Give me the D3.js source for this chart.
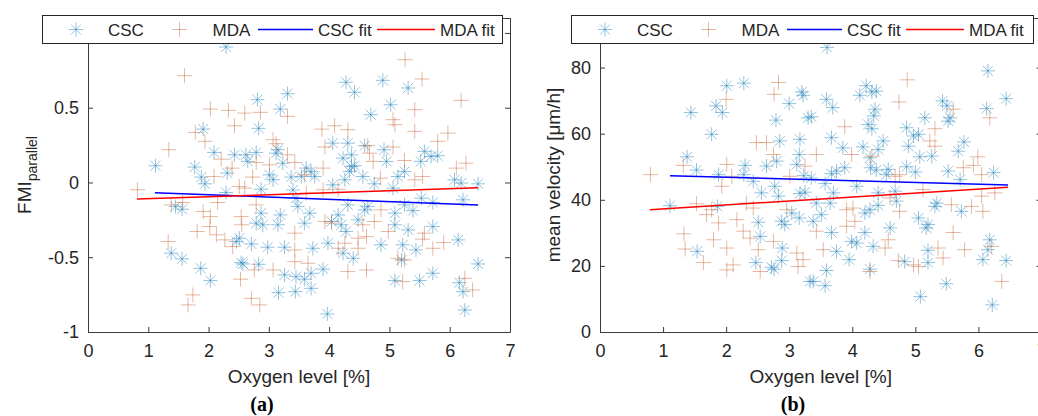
<!DOCTYPE html>
<html lang="en">
<head>
<meta charset="utf-8">
<title>FMI and mean velocity vs oxygen level</title>
<script src="https://d3js.org/d3.v7.min.js"></script>
<style>
  html, body { margin: 0; padding: 0; background: #fff; }
  text { font-family: "Liberation Sans", Arial, sans-serif; fill: #262626; }
  .axis line, .axis path { stroke: #3a3a3a; }
  .panel-label { font-family: "Liberation Serif", "DejaVu Serif", serif; font-weight: bold; font-size: 20px; fill: #000; }
</style>
</head>
<body>
<script>
// ---- data ----
var xTicks = [0, 1, 2, 3, 4, 5, 6, 7];
var fmiTicks = [-1, -0.5, 0, 0.5, 1];
var velTicks = [0, 20, 40, 60, 80];
var legendNames = ["CSC", "MDA", "CSC fit", "MDA fit"];

// panel (a): FMI parallel
var cscFmi = [
  [2.29,0.906],[3.31,0.594],[2.81,0.554],[3.19,0.491],[1.91,0.357],[2.83,0.362],[1.12,0.112],[2.09,0.201],
  [2.43,0.185],[2.62,0.185],[2.79,0.201],[3.12,0.196],[3.15,0.219],[2.65,0.141],[3.23,0.129],[1.77,0.103],
  [1.88,0.036],[1.94,-0.009],[2.31,0.063],[3.01,0.051],[3.07,0.018],[3.37,0.036],[2.87,-0.045],[2.29,-0.067],
  [1.45,-0.161],[1.56,-0.179],[2.87,-0.205],[2.79,-0.272],[2.90,-0.283],[3.19,-0.217],[3.15,-0.283],[2.51,-0.373],
  [2.46,-0.395],[2.71,-0.411],[2.98,-0.433],[3.26,-0.433],[1.38,-0.473],[1.56,-0.511],[1.87,-0.574],[2.54,-0.536],
  [2.57,-0.545],[2.83,-0.547],[3.26,-0.618],[2.03,-0.656],[3.16,-0.737],[3.44,-0.730],[3.45,-0.630],[3.40,-0.050],
  [3.45,-0.105],[3.48,-0.160],
  [4.28,0.670],[4.42,0.603],[4.89,0.683],[5.31,0.632],[5.02,0.520],[4.69,0.453],[4.06,0.263],[4.31,0.263],
  [4.59,0.246],[4.91,0.219],[4.95,0.141],[5.58,0.208],[5.52,0.141],[5.69,0.174],[5.80,0.179],[4.23,0.163],
  [4.37,0.185],[4.37,0.107],[4.42,0.112],[4.34,0.074],[3.62,0.096],[3.70,0.074],[3.76,0.040],[3.54,0.040],
  [4.06,-0.016],[4.26,0.018],[4.56,0.040],[4.75,-0.009],[5.14,0.040],[5.25,0.074],[5.06,-0.038],[6.08,0.018],
  [6.19,-0.004],[6.47,-0.009],[6.22,-0.116],[5.72,-0.134],[5.53,-0.105],[5.39,-0.188],[5.25,-0.150],[5.09,-0.205],
  [4.64,-0.161],[4.59,-0.183],[4.48,-0.250],[4.31,-0.150],[4.15,-0.217],[4.20,-0.283],[4.28,-0.328],[4.04,-0.261],
  [3.68,-0.205],[3.59,-0.272],[5.09,-0.283],[5.31,-0.317],[5.72,-0.295],[6.14,-0.384],[4.86,-0.417],[5.22,-0.417],
  [5.44,-0.451],[3.98,-0.406],[3.73,-0.440],[4.23,-0.473],[4.40,-0.507],[5.20,-0.518],[3.90,-0.580],[3.70,-0.607],
  [3.59,-0.647],[3.70,-0.708],[5.09,-0.656],[5.50,-0.656],[5.72,-0.607],[6.16,-0.670],[6.22,-0.730],[6.47,-0.545],
  [6.25,-0.853],[3.97,-0.879]
];
var mdaFmi = [
  [1.60,0.714],[2.03,0.491],[2.33,0.482],[2.60,0.464],[2.86,0.469],[3.31,0.442],[2.43,0.379],[1.78,0.335],
  [1.94,0.275],[1.34,0.219],[3.07,0.286],[3.12,0.259],[3.31,0.185],[3.43,0.134],[2.21,0.156],[2.39,0.096],
  [2.79,0.134],[3.01,0.118],[2.73,0.036],[0.82,-0.049],[2.51,-0.027],[2.60,-0.038],[2.09,0.040],[2.15,-0.134],
  [1.38,-0.150],[1.57,-0.134],[1.91,-0.194],[2.03,-0.228],[2.54,-0.228],[2.55,-0.283],[2.79,-0.150],[2.02,-0.295],
  [1.81,-0.328],[2.13,-0.350],[2.27,-0.384],[1.33,-0.395],[2.40,-0.429],[3.43,-0.339],[3.43,-0.451],[3.07,-0.585],
  [2.53,-0.647],[2.76,-0.585],[1.74,-0.752],[1.66,-0.819],[2.71,-0.775],[2.85,-0.819],[3.43,-0.530],
  [5.26,0.821],[5.54,0.692],[6.19,0.549],[5.42,0.487],[5.06,0.420],[5.09,0.386],[5.42,0.342],[3.88,0.357],
  [4.09,0.379],[4.31,0.353],[5.97,0.330],[5.80,0.275],[4.64,0.246],[5.06,0.237],[3.93,0.237],[4.67,0.196],
  [4.73,0.141],[5.25,0.147],[6.27,0.129],[6.11,0.096],[5.55,0.040],[5.42,0.018],[3.90,0.096],[3.59,0.051],
  [4.85,0.029],[4.15,-0.045],[3.90,-0.049],[3.62,-0.071],[4.86,-0.183],[4.75,-0.261],[3.93,-0.261],[4.04,-0.272],
  [4.56,-0.283],[4.62,-0.362],[4.48,-0.373],[4.98,-0.328],[5.58,-0.339],[5.55,-0.379],[5.72,-0.440],[5.90,-0.402],
  [4.15,-0.440],[4.48,-0.440],[5.14,-0.507],[5.25,-0.518],[4.31,-0.596],[4.62,-0.585],[3.65,-0.540],[5.22,-0.663],
  [6.25,-0.641],[6.38,-0.719],[4.26,-0.406]
];
var cscFmiFit = [[1.11,-0.068],[6.47,-0.150]];
var mdaFmiFit = [[0.81,-0.111],[6.47,-0.036]];

// panel (b): mean velocity
var cscVel = [
  [2.01,74.5],[2.28,75.3],[3.20,72.6],[3.22,71.6],[3.00,69.1],[1.84,68.4],[1.94,66.4],[1.44,66.4],
  [2.79,64.1],[3.30,64.8],[1.77,59.8],[2.85,57.8],[3.17,58.3],[1.38,53.0],[3.16,53.7],[1.53,49.0],
  [2.30,50.4],[2.64,50.2],[2.80,51.7],[3.12,50.7],[1.88,47.6],[2.28,47.6],[2.43,45.6],[3.23,47.3],
  [2.77,44.1],[2.56,42.1],[2.83,41.1],[3.17,41.9],[3.25,42.3],[1.11,38.2],[1.86,38.0],[2.51,33.2],
  [2.88,33.5],[2.93,32.5],[3.16,34.5],[3.04,36.0],[2.54,28.9],[2.89,25.4],[1.54,24.4],[2.47,21.0],
  [2.72,19.6],[2.76,19.0],[2.88,21.6],[3.33,15.3],
  [3.60,86.1],[6.15,79.0],[6.44,70.6],[6.13,67.6],[4.22,74.5],[4.12,71.6],[4.31,72.6],[4.38,72.9],
  [3.59,70.4],[3.69,67.9],[4.36,67.4],[4.34,65.4],[4.25,62.8],[4.31,61.5],[5.43,69.9],[5.50,68.4],
  [5.15,64.8],[5.55,64.8],[5.52,63.8],[4.86,61.8],[4.97,59.3],[5.05,59.8],[3.35,65.1],[3.67,58.8],
  [3.85,55.7],[4.49,57.8],[4.17,56.0],[4.89,56.2],[5.77,57.5],[5.68,54.7],[5.07,53.0],[5.26,53.2],
  [4.28,52.7],[4.41,55.2],[4.29,49.7],[4.38,49.0],[4.57,49.2],[4.54,47.6],[3.75,48.7],[3.88,49.7],
  [3.67,47.9],[4.86,50.0],[5.00,48.4],[5.52,48.7],[5.71,46.1],[6.24,48.2],[3.35,46.6],[3.57,44.9],
  [4.07,44.1],[4.68,42.6],[4.41,42.1],[4.70,39.6],[3.70,42.1],[3.65,39.0],[3.43,39.0],[5.31,38.0],
  [5.34,39.0],[5.73,36.5],[4.28,37.0],[4.41,38.3],[4.20,36.0],[3.38,33.5],[3.51,35.5],[5.05,34.5],
  [5.20,32.5],[5.17,31.5],[4.60,31.5],[3.67,30.1],[4.20,30.1],[3.99,27.4],[4.07,26.9],[4.33,25.9],
  [3.75,24.4],[5.20,24.7],[6.18,27.9],[6.15,24.9],[6.07,21.9],[6.44,21.6],[3.95,21.9],[4.83,21.3],
  [5.20,21.0],[4.28,19.0],[3.59,18.6],[3.38,15.3],[3.57,14.0],[5.49,14.6],[5.08,10.7],[6.22,8.2]
];
var mdaVel = [
  [2.83,75.5],[2.76,71.9],[2.00,70.4],[0.80,47.6],[1.32,50.4],[2.48,57.3],[2.64,57.3],[2.75,53.7],
  [2.01,50.7],[2.09,47.1],[1.93,44.1],[3.01,47.1],[3.25,50.2],[1.53,38.8],[1.69,35.5],[1.77,37.0],
  [1.88,33.0],[2.17,34.0],[2.32,39.0],[2.43,37.5],[2.27,30.5],[2.38,28.4],[1.33,29.7],[1.80,27.9],
  [2.01,25.4],[1.35,25.1],[1.64,21.0],[2.51,24.9],[2.75,27.4],[3.12,23.9],[3.22,21.9],[2.11,20.3],
  [2.01,18.8],[2.54,18.3],[3.14,19.8],[2.96,37.0],
  [4.87,76.3],[4.74,69.6],[3.88,62.1],[5.31,61.5],[5.60,67.4],[6.18,64.8],[3.43,53.7],[3.99,53.7],
  [4.31,53.2],[5.23,57.8],[5.31,56.2],[5.99,53.0],[5.92,50.4],[5.76,49.7],[6.05,47.6],[4.75,47.6],
  [4.68,47.1],[3.91,37.0],[4.01,37.5],[5.57,38.5],[5.89,38.0],[6.07,36.5],[6.05,41.1],[6.26,42.1],
  [4.60,40.6],[4.75,36.5],[5.12,43.1],[4.04,33.5],[3.43,30.5],[3.91,32.0],[4.57,27.9],[4.52,25.4],
  [5.60,30.1],[5.78,24.9],[5.36,25.4],[5.44,22.4],[4.97,20.3],[5.05,19.8],[4.73,21.6],[3.54,24.9],
  [4.28,18.3],[6.37,15.3],[6.21,25.9]
];
var cscVelFit = [[1.11,47.3],[6.47,44.5]];
var mdaVelFit = [[0.79,37.0],[6.47,43.8]];

// ---- drawing ----
var W = 1038, H = 416;
var cscColor = "#2a85bb", mdaColor = "#c86a3c";
var cscAlpha = 0.5, mdaAlpha = 0.48;
var svg = d3.select("body").append("svg").attr("width", W).attr("height", H);

var asterisk = "M-7,0H7M0,-7V7M-5,-5L5,5M-5,5L5,-5";
var plus = "M-7.5,0H7.5M0,-7.5V7.5";

function panel(opt) {
  var x = d3.scaleLinear().domain([0, 7]).range(opt.xr);
  var y = d3.scaleLinear().domain(opt.yd).range([332, 18]);
  var g = svg.append("g");

  // box with inward ticks on all four sides
  var axes = [
    [d3.axisBottom(x), "translate(0," + y.range()[0] + ")", true, xTicks],
    [d3.axisTop(x), "translate(0," + y.range()[1] + ")", false, xTicks],
    [d3.axisLeft(y), "translate(" + x.range()[0] + ",0)", true, opt.yt],
    [d3.axisRight(y), "translate(" + x.range()[1] + ",0)", false, opt.yt]
  ];
  axes.forEach(function(a, i) {
    var ax = a[0].tickSizeInner(-5).tickSizeOuter(0).tickPadding(i < 2 ? 12 : 9)
      .tickValues(a[3])
      .tickFormat(a[2] ? function(d) { return String(d); } : "");
    var ag = g.append("g").attr("class", "axis").attr("transform", a[1]).call(ax);
    ag.selectAll("text").attr("font-size", "18px").attr("fill", "#262626");
    ag.select(".domain").attr("stroke", "#3a3a3a");
    ag.selectAll(".tick line").attr("stroke", "#3a3a3a");
  });

  var plot = g.append("g");
  plot.selectAll(".csc").data(opt.csc).join("path")
    .attr("d", asterisk)
    .attr("transform", function(d) { return "translate(" + x(d[0]) + "," + y(d[1]) + ")"; })
    .attr("stroke", cscColor).attr("stroke-opacity", cscAlpha).attr("fill", "none").attr("stroke-width", 1);
  plot.selectAll(".mda").data(opt.mda).join("path")
    .attr("d", plus)
    .attr("transform", function(d) { return "translate(" + x(d[0]) + "," + y(d[1]) + ")"; })
    .attr("stroke", mdaColor).attr("stroke-opacity", mdaAlpha).attr("fill", "none").attr("stroke-width", 1);

  var line = d3.line().x(function(d) { return x(d[0]); }).y(function(d) { return y(d[1]); });
  plot.append("path").attr("d", line(opt.cscFit)).attr("stroke", "#0000FF").attr("stroke-width", 1.5).attr("fill", "none");
  plot.append("path").attr("d", line(opt.mdaFit)).attr("stroke", "#FF0000").attr("stroke-width", 1.5).attr("fill", "none");

  // axis labels
  var cx = (x.range()[0] + x.range()[1]) / 2;
  g.append("text").attr("x", cx).attr("y", 383).attr("text-anchor", "middle")
    .attr("font-size", "19px").text("Oxygen level [%]");
  var yl = g.append("text").attr("transform", "translate(" + opt.ylx + ",175) rotate(-90)")
    .attr("text-anchor", "middle").attr("font-size", "19px");
  opt.ylabel(yl);

  g.append("text").attr("class", "panel-label").attr("x", opt.plx).attr("y", 411)
    .attr("text-anchor", "middle").text(opt.pl);

  // legend
  var L = opt.legend;
  var lg = g.append("g").attr("transform", "translate(" + L[0] + ",15)");
  lg.append("rect").attr("x", 0.5).attr("y", 0.5).attr("width", L[1]).attr("height", 28)
    .attr("fill", "#fff").attr("stroke", "#262626").attr("stroke-width", 1);
  lg.append("path").attr("d", asterisk).attr("transform", "translate(34,14.5)")
    .attr("stroke", cscColor).attr("stroke-opacity", cscAlpha).attr("fill", "none");
  lg.append("path").attr("d", plus).attr("transform", "translate(137.5,14.5)")
    .attr("stroke", mdaColor).attr("stroke-opacity", mdaAlpha).attr("fill", "none");
  lg.append("line").attr("x1", 216).attr("x2", 271).attr("y1", 14.5).attr("y2", 14.5)
    .attr("stroke", "#0000FF").attr("stroke-width", 1.5);
  lg.append("line").attr("x1", 335).attr("x2", 393).attr("y1", 14.5).attr("y2", 14.5)
    .attr("stroke", "#FF0000").attr("stroke-width", 1.5);
  var tx = [66, 170.5, 276, 398];
  legendNames.forEach(function(n, i) {
    lg.append("text").attr("x", tx[i]).attr("y", 20.5).attr("font-size", "17px").attr("fill", "#000").text(n);
  });
}

panel({
  xr: [88, 510], yd: [-1, 1.1], yt: fmiTicks,
  csc: cscFmi, mda: mdaFmi, cscFit: cscFmiFit, mdaFit: mdaFmiFit,
  ylx: 31, plx: 262, pl: "(a)", legend: [42, 460],
  ylabel: function(t) {
    t.append("tspan").text("FMI");
    t.append("tspan").attr("font-size", "14px").attr("dy", 6).text("parallel");
  }
});

panel({
  xr: [600, 1041.5], yd: [0, 95], yt: velTicks,
  csc: cscVel, mda: mdaVel, cscFit: cscVelFit, mdaFit: mdaVelFit,
  ylx: 560, plx: 793, pl: "(b)", legend: [571, 462],
  ylabel: function(t) { t.text("mean velocity [\u03BCm/h]"); }
});
</script>
</body>
</html>
